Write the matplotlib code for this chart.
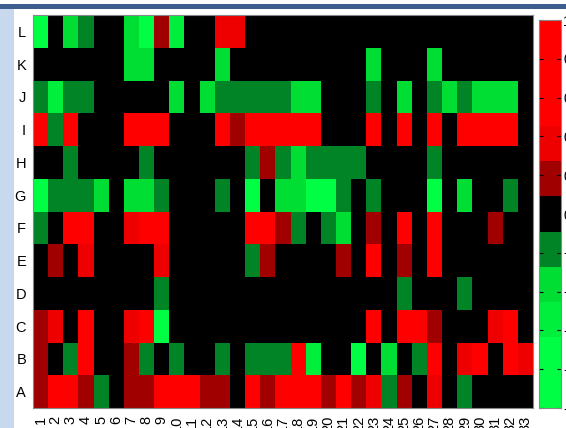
import matplotlib
matplotlib.use('Agg')
import matplotlib.pyplot as plt
import numpy as np
from matplotlib.colors import ListedColormap, Normalize
from matplotlib.patches import Rectangle

plt.rcParams['font.family'] = ['Liberation Sans', 'DejaVu Sans']

row_labels = ['A', 'B', 'C', 'D', 'E', 'F', 'G', 'H', 'I', 'J', 'K', 'L']
col_labels = [str(i) for i in range(1, 34)]

# One list per row, bottom (A) to top (L), columns 1..33
scores = [
    # A
    [0.2, 0.75, 0.75, 0.2, -0.2, 0, 0.2, 0.2, 0.75, 0.75, 0.75, 0.2, 0.2, 0, 0.75, 0.2, 0.75,
     0.75, 0.75, 0.2, 0.75, 0.2, 0.4, -0.2, 0.2, 0, 0.4, 0, -0.2, 0, 0, 0, 0],
    # B
    [0.2, 0, -0.2, 0.75, 0, 0, 0.2, -0.2, 0, -0.2, 0, 0, -0.2, 0, -0.2, -0.2, -0.2,
     0.75, -0.55, 0, 0, -0.75, 0, -0.4, 0, -0.2, 0.75, 0, 0.4, 0.75, 0, 0.75, 0.4],
    # C
    [0.2, 0.4, 0, 0.75, 0, 0, 0.4, 0.75, -0.75, 0, 0, 0, 0, 0, 0, 0, 0,
     0, 0, 0, 0, 0, 0.75, 0, 0.75, 0.75, 0.2, 0, 0, 0, 0.4, 0.75, 0],
    # D
    [0, 0, 0, 0, 0, 0, 0, 0, -0.2, 0, 0, 0, 0, 0, 0, 0, 0,
     0, 0, 0, 0, 0, 0, 0, -0.2, 0, 0, 0, -0.2, 0, 0, 0, 0],
    # E
    [0, 0.2, 0, 0.4, 0, 0, 0, 0, 0.4, 0, 0, 0, 0, 0, -0.2, 0.2, 0,
     0, 0, 0, 0.2, 0, 0.75, 0, 0.2, 0, 0.75, 0, 0, 0, 0, 0, 0],
    # F
    [-0.2, 0, 0.75, 0.75, 0, 0, 0.4, 0.75, 0.75, 0, 0, 0, 0, 0, 0.75, 0.75, 0.2,
     -0.2, 0, -0.2, -0.4, 0, 0.2, 0, 0.75, 0, 0.75, 0, 0, 0, 0.2, 0, 0],
    # G
    [-0.75, -0.2, -0.2, -0.2, -0.4, 0, -0.4, -0.4, -0.2, 0, 0, 0, -0.2, 0, -0.75, 0, -0.4,
     -0.4, -0.75, -0.75, -0.2, 0, -0.2, 0, 0, 0, -0.75, 0, -0.4, 0, 0, -0.2, 0],
    # H
    [0, 0, -0.2, 0, 0, 0, 0, -0.2, 0, 0, 0, 0, 0, 0, -0.2, 0.2, -0.2,
     -0.4, -0.2, -0.2, -0.2, -0.2, 0, 0, 0, 0, -0.2, 0, 0, 0, 0, 0, 0],
    # I
    [0.75, -0.2, 0.75, 0, 0, 0, 0.75, 0.75, 0.75, 0, 0, 0, 0.75, 0.2, 0.75, 0.75, 0.75,
     0.75, 0.75, 0, 0, 0, 0.75, 0, 0.75, 0, 0.75, 0, 0.75, 0.75, 0.75, 0.75, 0],
    # J
    [-0.2, -0.55, -0.2, -0.2, 0, 0, 0, 0, 0, -0.4, 0, -0.4, -0.2, -0.2, -0.2, -0.2, -0.2,
     -0.4, -0.4, 0, 0, 0, -0.2, 0, -0.4, 0, -0.2, -0.4, -0.2, -0.4, -0.4, -0.4, 0],
    # K
    [0, 0, 0, 0, 0, 0, -0.4, -0.4, 0, 0, 0, 0, -0.4, 0, 0, 0, 0,
     0, 0, 0, 0, 0, -0.4, 0, 0, 0, -0.4, 0, 0, 0, 0, 0, 0],
    # L
    [-0.75, 0, -0.4, -0.2, 0, 0, -0.4, -0.75, 0.2, -0.55, 0, 0, 0.4, 0.4, 0, 0, 0,
     0, 0, 0, 0, 0, 0, 0, 0, 0, 0, 0, 0, 0, 0, 0, 0],
]

# 11-step green / black / red scale over [-1, 1]
level_colors = ['#00FF44', '#00FF44', '#00EE3C', '#00DD33', '#008425', '#000000',
                '#A00000', '#EE0000', '#FF0000', '#FF0000', '#FF0000']
cmap = ListedColormap(level_colors)
norm = Normalize(vmin=-1, vmax=1)

fig = plt.figure(figsize=(5.66, 4.28), dpi=100)

# slide decoration: light side strip and top rule
fig.patches.append(Rectangle((0, 0), 14 / 566, 1 - 9 / 428, transform=fig.transFigure,
                             facecolor='#C8D8EE', edgecolor='none', zorder=0))
fig.patches.append(Rectangle((0, 1 - 9 / 428), 1, 5 / 428, transform=fig.transFigure,
                             facecolor='#3C5F8E', edgecolor='none', zorder=0))

ax = fig.add_axes([33 / 566, 20 / 428, 500 / 566, 393 / 428])
data = np.array(scores)
im = ax.imshow(data, cmap=cmap, norm=norm, origin='lower', aspect='auto',
               interpolation='nearest')

ax.set_xticks(np.arange(len(col_labels)))
ax.set_xticklabels(col_labels, rotation=90, fontsize=10.5)
ax.set_yticks(np.arange(len(row_labels)))
ax.set_yticklabels(row_labels, fontsize=10.5)
ax.tick_params(axis='both', length=0)
ax.tick_params(axis='x', pad=5.5)
ax.tick_params(axis='y', pad=5)
for spine in ax.spines.values():
    spine.set_color('#888888')
    spine.set_linewidth(0.8)

cax = fig.add_axes([539 / 566, 20 / 428, 22 / 566, 388 / 428])
cbar = fig.colorbar(im, cax=cax, ticks=np.linspace(-1, 1, 11))
cbar.outline.set_edgecolor('#888888')
cbar.outline.set_linewidth(0.8)
cax.tick_params(direction='in', length=3, left=True, right=True, labelsize=10, pad=1.5)

fig.savefig('out.png', dpi=100)
